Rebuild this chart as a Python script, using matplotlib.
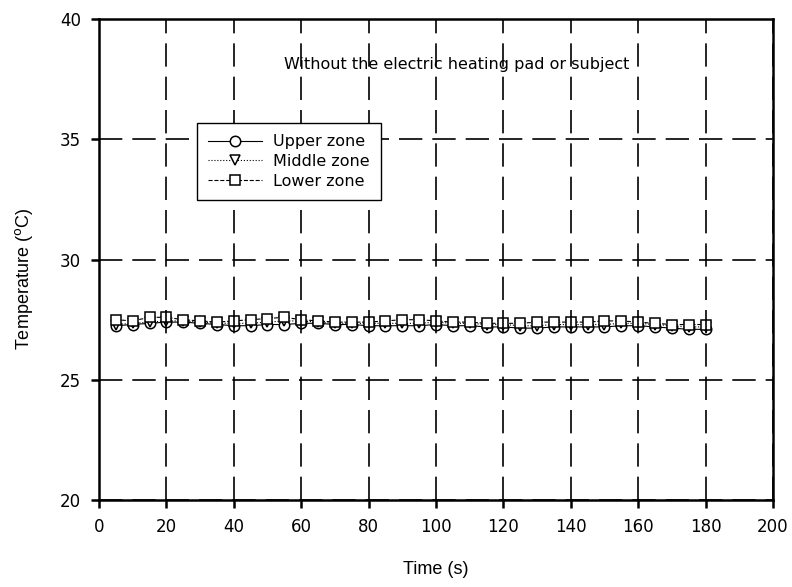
import numpy as np
import matplotlib
matplotlib.use("Agg")
import matplotlib.pyplot as plt

plt.rcParams['font.family'] = ['Liberation Sans', 'DejaVu Sans']

# time points (s)
time = np.arange(5, 181, 5)

upper = [27.25, 27.30, 27.35, 27.40, 27.40, 27.35, 27.30, 27.25, 27.25, 27.30,
         27.30, 27.35, 27.35, 27.30, 27.30, 27.25, 27.25, 27.25, 27.25, 27.30,
         27.25, 27.25, 27.20, 27.20, 27.15, 27.15, 27.20, 27.20, 27.20, 27.20,
         27.25, 27.25, 27.20, 27.15, 27.10, 27.10]
middle = [27.30, 27.35, 27.40, 27.45, 27.45, 27.40, 27.35, 27.35, 27.35, 27.40,
          27.45, 27.45, 27.40, 27.35, 27.35, 27.35, 27.35, 27.35, 27.35, 27.40,
          27.35, 27.35, 27.30, 27.30, 27.25, 27.25, 27.30, 27.30, 27.30, 27.30,
          27.35, 27.35, 27.30, 27.25, 27.20, 27.20]
lower = [27.50, 27.45, 27.60, 27.60, 27.50, 27.45, 27.40, 27.45, 27.50, 27.55,
         27.60, 27.50, 27.45, 27.40, 27.40, 27.40, 27.45, 27.50, 27.50, 27.45,
         27.40, 27.40, 27.35, 27.35, 27.35, 27.40, 27.40, 27.40, 27.40, 27.45,
         27.45, 27.40, 27.35, 27.30, 27.30, 27.30]

fig = plt.figure(figsize=(7.92, 5.87), dpi=100)
ax = fig.add_axes([0.125, 0.148, 0.851, 0.8196])

ax.plot(time, upper, '-', color='k', lw=0.8, marker='o', ms=7.5, mfc='white', mec='k', mew=1.1, label='Upper zone')
ax.plot(time, middle, ':', color='k', lw=0.8, marker='v', ms=7.5, mfc='white', mec='k', mew=1.1, label='Middle zone')
ax.plot(time, lower, '--', color='k', lw=0.8, marker='s', ms=7, mfc='white', mec='k', mew=1.1, label='Lower zone')

ax.set_xlim(0, 200)
ax.set_ylim(20, 40)
ax.set_xticks(np.arange(0, 201, 20))
ax.set_yticks(np.arange(20, 41, 5))
ax.grid(True, color='k', lw=1.2, linestyle=(0, (14, 6)))
ax.set_axisbelow(False)

for s in ax.spines.values():
    s.set_linewidth(1.8)
ax.tick_params(direction='out', length=6, width=1.8, labelsize=12, pad=7)
for lab in ax.get_xticklabels() + ax.get_yticklabels():
    lab.set_family('DejaVu Sans')

ax.set_xlabel('Time (s)', fontsize=13, labelpad=18)
ax.set_ylabel('Temperature ($^{\\rm o}$C)', fontsize=13)
ax.yaxis.set_label_coords(-0.095, 0.46)

ax.text(106.2, 38.1, 'Without the electric heating pad or subject', ha='center', va='center',
        fontsize=11.5, family='DejaVu Sans')

leg = ax.legend(loc='upper left', bbox_to_anchor=(0.145, 0.784), frameon=True,
                fancybox=False, edgecolor='k', framealpha=1, handlelength=3.4, handletextpad=0.7,
                borderpad=0.7, labelspacing=0.3, borderaxespad=0,
                prop={'family': 'DejaVu Sans', 'size': 11.5})
leg.get_frame().set_linewidth(1.0)

fig.savefig('out.png', dpi=100)
